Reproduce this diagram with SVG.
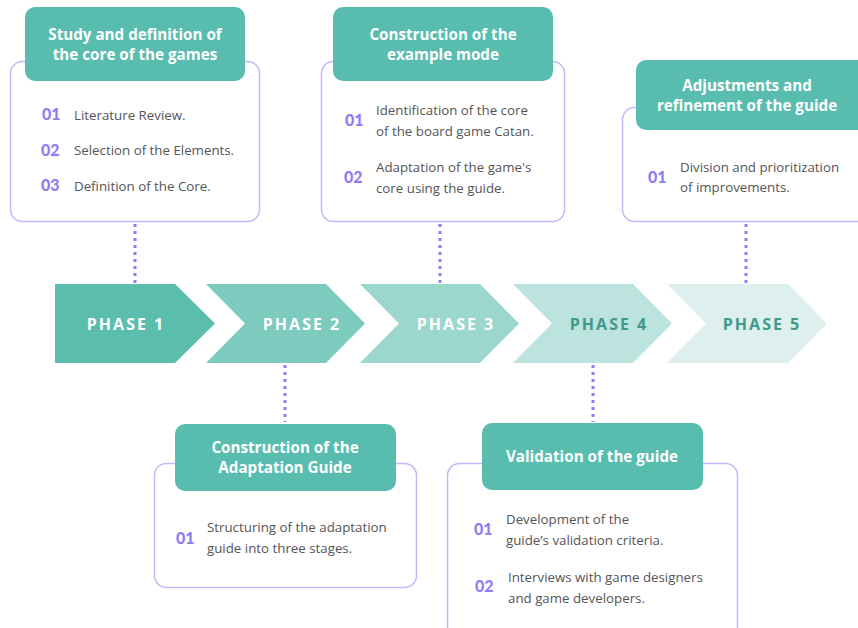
<svg xmlns="http://www.w3.org/2000/svg" width="858" height="628" viewBox="0 0 858 628">
<style>
.frame{fill:#ffffff;stroke:#c4b8fb;stroke-width:1.5}
.head{fill:#58bdae}
.ht{font-family:"Open Sans","Liberation Sans",sans-serif;font-weight:700;font-size:15.2px;fill:#ffffff;text-anchor:middle}
.num{font-family:"Lato","Liberation Sans",sans-serif;font-weight:900;font-size:16px;fill:#8f7cf5}
.bt{font-family:"Open Sans","Liberation Sans",sans-serif;font-size:13.3px;fill:#555555}
.pt{font-family:"Open Sans","Liberation Sans",sans-serif;font-weight:700;font-size:16px;letter-spacing:2px;text-anchor:middle}
.dot{stroke:#8f7cf5;stroke-width:3;stroke-dasharray:3 4;fill:none}
</style>
<rect width="858" height="628" fill="#ffffff"/>
<g id="connectors">
<line class="dot" x1="135" y1="224" x2="135" y2="283"/>
<line class="dot" x1="440" y1="224" x2="440" y2="283"/>
<line class="dot" x1="746" y1="224" x2="746" y2="283"/>
<line class="dot" x1="285" y1="365" x2="285" y2="422"/>
<line class="dot" x1="593" y1="365" x2="593" y2="422"/>
</g>
<g id="phase1">
<polygon points="55,284 175,284 215,323.5 175,363 55,363" fill="#5bbdae"/>
<text class="pt" x="126" y="329.5" fill="#ffffff">PHASE 1</text>
</g>
<g id="phase2">
<polygon points="206,284 326,284 365,323.5 326,363 206,363 245,323.5" fill="#7ccbbe"/>
<text class="pt" x="302" y="329.5" fill="#ffffff">PHASE 2</text>
</g>
<g id="phase3">
<polygon points="360,284 480,284 519,323.5 480,363 360,363 399,323.5" fill="#9bd7cd"/>
<text class="pt" x="456" y="329.5" fill="#ffffff">PHASE 3</text>
</g>
<g id="phase4">
<polygon points="513,284 633,284 672,323.5 633,363 513,363 552,323.5" fill="#bce3dd"/>
<text class="pt" x="609" y="329.5" fill="#3f9a8b">PHASE 4</text>
</g>
<g id="phase5">
<polygon points="667,284 788,284 827,323.5 788,363 667,363 706,323.5" fill="#ddf0ed"/>
<text class="pt" x="762" y="329.5" fill="#3f9a8b">PHASE 5</text>
</g>
<g id="box-study">
<rect class="frame" x="10.5" y="61.5" width="249" height="160" rx="12"/>
<rect class="head" x="25" y="7" width="220" height="74" rx="10"/>
<text class="ht" x="135" y="40">Study and definition of</text>
<text class="ht" x="135" y="60">the core of the games</text>
<text class="num" x="42" y="120">01</text><text class="bt" x="74" y="120">Literature Review.</text>
<text class="num" x="41" y="156">02</text><text class="bt" x="74" y="155">Selection of the Elements.</text>
<text class="num" x="41" y="191">03</text><text class="bt" x="74" y="191">Definition of the Core.</text>
</g>
<g id="box-example">
<rect class="frame" x="321.5" y="61.5" width="243" height="160" rx="12"/>
<rect class="head" x="333" y="7" width="220" height="74" rx="10"/>
<text class="ht" x="443" y="40">Construction of the</text>
<text class="ht" x="443" y="60">example mode</text>
<text class="num" x="345" y="126">01</text>
<text class="bt" x="376" y="115">Identification of the core</text>
<text class="bt" x="376" y="136">of the board game Catan.</text>
<text class="num" x="344" y="183">02</text>
<text class="bt" x="376" y="172">Adaptation of the game's</text>
<text class="bt" x="376" y="193">core using the guide.</text>
</g>
<g id="box-adjust">
<rect class="frame" x="622.5" y="107.5" width="250" height="114" rx="12"/>
<rect class="head" x="636" y="60" width="235" height="70" rx="10"/>
<text class="ht" x="747" y="91">Adjustments and</text>
<text class="ht" x="747" y="111">refinement of the guide</text>
<text class="num" x="648" y="183">01</text>
<text class="bt" x="680" y="172">Division and prioritization</text>
<text class="bt" x="680" y="192">of improvements.</text>
</g>
<g id="box-guide">
<rect class="frame" x="154.5" y="463.5" width="262" height="124" rx="12"/>
<rect class="head" x="175" y="424" width="221" height="67" rx="10"/>
<text class="ht" x="285" y="453">Construction of the</text>
<text class="ht" x="285" y="473">Adaptation Guide</text>
<text class="num" x="176" y="544">01</text>
<text class="bt" x="207" y="532">Structuring of the adaptation</text>
<text class="bt" x="207" y="553">guide into three stages.</text>
</g>
<g id="box-validation">
<rect class="frame" x="447.5" y="463.5" width="290" height="180" rx="12"/>
<rect class="head" x="482" y="423" width="221" height="67" rx="10"/>
<text class="ht" x="592" y="462">Validation of the guide</text>
<text class="num" x="474" y="535">01</text>
<text class="bt" x="506" y="524">Development of the</text>
<text class="bt" x="506" y="545">guide’s validation criteria.</text>
<text class="num" x="475" y="592">02</text>
<text class="bt" x="508" y="582">Interviews with game designers</text>
<text class="bt" x="508" y="603">and game developers.</text>
</g>
</svg>
